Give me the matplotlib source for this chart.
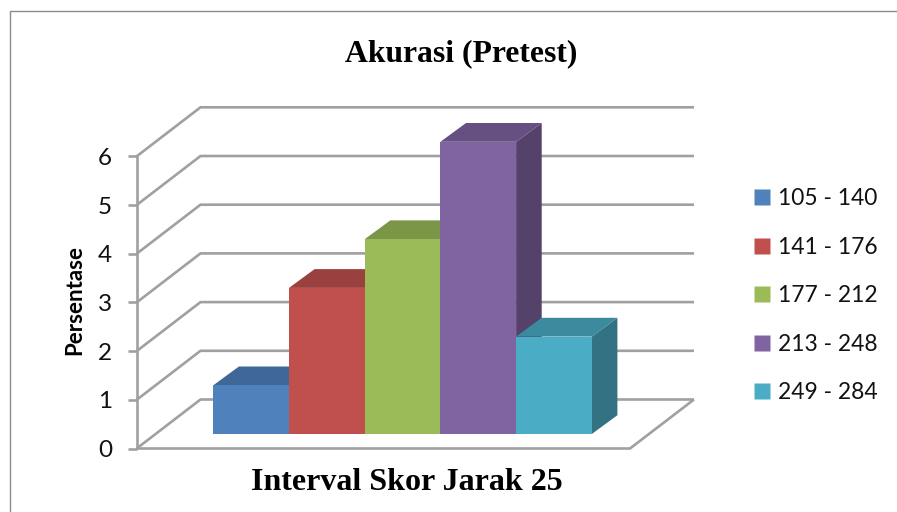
import matplotlib
matplotlib.use("Agg")
import matplotlib.pyplot as plt
from matplotlib.lines import Line2D
from matplotlib.patches import Polygon
from matplotlib.colors import to_rgb

intervals = ["105 - 140", "141 - 176", "177 - 212", "213 - 248", "249 - 284"]
persen = [1, 3, 4, 6, 2]
warna = ["#4F81BD", "#C0504D", "#9BBB59", "#8064A2", "#4BACC6"]
y_ticks = [0, 1, 2, 3, 4, 5, 6]

W, H = 897, 512
X_UNIT, Y_UNIT = 75.7, 48.7   # pixels per category / per value
BAR_LEFT, BAR_BASE = 213.3, 434.0
DX, DY = 25.6 / X_UNIT, 18.8 / Y_UNIT   # bar depth


def px(x):
    return (x - BAR_LEFT) / X_UNIT - 0.5


def py(y):
    return (BAR_BASE - y) / Y_UNIT


def shade(color, k):
    return tuple(c * k for c in to_rgb(color))


fig = plt.figure(figsize=(W / 100, H / 100), dpi=100)
ax = fig.add_axes([0, 0, 1, 1])
ax.set_xlim(px(0), px(W))
ax.set_ylim(py(H), py(0))
ax.axis("off")

grid = dict(color="#a0a0a0", lw=1.9, solid_capstyle="butt", solid_joinstyle="miter")

# chart frame, cut off by the page on the right and at the bottom
ax.plot([px(10), px(10), px(W)], [py(H), py(10.5), py(10.5)], color="#8c8c8c", lw=1.0)

# walls and floor
front_l, back_l, back_r, front_r = px(136.7), px(200.5), px(694), px(630)
front_0, back_0 = py(448.5), py(399.5)
for v in y_ticks:
    ax.plot([front_l, back_l, back_r], [front_0 + v, back_0 + v, back_0 + v], **grid)
    ax.plot([px(128), front_l], [front_0 + v, front_0 + v], **grid)
    ax.text(px(112), front_0 + v, str(v), ha="right", va="center_baseline",
            fontsize=17.5, family="Lato", color="#111111")
ax.plot([front_l, front_l], [front_0, front_0 + y_ticks[-1]], **grid)
ax.plot([back_r, front_r, front_l], [back_0, front_0, front_0], **grid)

# bars, painted left to right so each front hides its neighbour's side
handles = []
for i, (val, col) in enumerate(zip(persen, warna)):
    l, r = i - 0.5, i + 0.5
    ax.add_patch(Polygon([(r, 0), (r + DX, DY), (r + DX, val + DY), (r, val)],
                         facecolor=shade(col, 0.66), edgecolor="none", zorder=3))
    ax.add_patch(Polygon([(l, val), (l + DX, val + DY), (r + DX, val + DY), (r, val)],
                         facecolor=shade(col, 0.8), edgecolor="none", zorder=3))
    ax.bar(i, val, width=1.0, color=col, zorder=3)
    handles.append(Line2D([], [], marker="s", ls="none", ms=11, mfc=col, mec="none"))

ax.legend(handles, intervals, loc="upper left", bbox_to_anchor=(739 / W, 1 - 188 / H),
          frameon=False, prop={"family": "Lato", "size": 16.4},
          labelspacing=1.21, handletextpad=-0.3, borderpad=0, borderaxespad=0, labelcolor="#111111")

fig.text(461 / W, 1 - 54 / H, "Akurasi (Pretest)", ha="center", va="center",
         family="Liberation Serif", weight="bold", fontsize=22.8, color="black")
fig.text(407 / W, 1 - 482 / H, "Interval Skor Jarak 25", ha="center", va="center",
         family="Liberation Serif", weight="bold", fontsize=23, color="black")
fig.text(75 / W, 1 - 300 / H, "Persentase", rotation=90, ha="center", va="center",
         family="Lato", weight="bold", fontsize=16, color="black")

fig.savefig("out.png", dpi=100)
